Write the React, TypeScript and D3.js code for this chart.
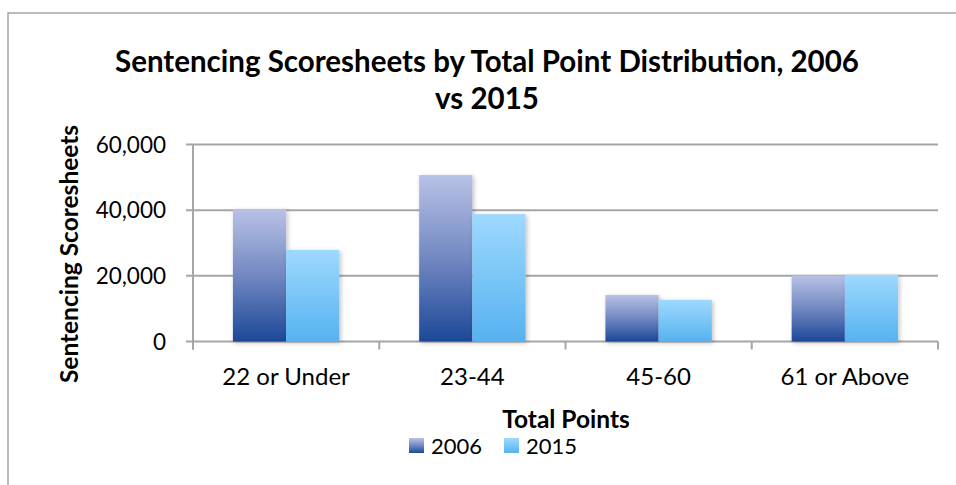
import React from "react";
import * as d3 from "d3";

const categories = ["22 or Under", "23-44", "45-60", "61 or Above"];
const series = ["2006", "2015"];
const values2006 = [40300, 50700, 14200, 20100];
const values2015 = [27900, 38800, 12700, 20300];
const yTicks = [0, 20000, 40000, 60000];

const W = 956;
const H = 485;
const FONT = "Lato, 'Open Sans', sans-serif";

export default function App() {
  const left = 193;
  const right = 938;
  const top = 144.5;
  const bottom = 341.5;
  const x0 = d3.scaleBand<string>().domain(categories).range([left, right]).paddingInner(0).paddingOuter(0);
  const y = d3.scaleLinear().domain([0, 60000]).range([bottom, top]);
  const vals = [values2006, values2015];
  const fills = ["url(#g2006)", "url(#g2015)"];
  const fmt = d3.format(",");
  // bar width with 150% gap
  const bw = x0.bandwidth() / 3.5;
  const gap = (x0.bandwidth() - 2 * bw) / 2;

  return (
    <svg width={W} height={H} style={{ position: "absolute", left: 0, top: 0, display: "block" }}>
      <defs>
        <linearGradient id="g2006" x1="0" y1="0" x2="0" y2="1">
          <stop offset="0" stopColor="#b9c2e6" />
          <stop offset="0.5" stopColor="#7288c2" />
          <stop offset="1" stopColor="#1c4897" />
        </linearGradient>
        <linearGradient id="g2015" x1="0" y1="0" x2="0" y2="1">
          <stop offset="0" stopColor="#9ed9fe" />
          <stop offset="1" stopColor="#56b2f0" />
        </linearGradient>
        <filter id="sh" x="-20%" y="-20%" width="140%" height="140%">
          <feDropShadow dx="1.5" dy="1.5" stdDeviation="2" floodColor="#000" floodOpacity="0.25" />
        </filter>
      </defs>
      <rect x={0} y={0} width={W} height={H} fill="#fff" />
      <rect x={8} y={13} width={W + 20} height={H + 20} fill="none" stroke="#a6a6a6" strokeWidth={1.5} />
      <text x={487} y={72} textAnchor="middle" fontFamily={FONT} fontWeight="bold" fontSize={29.5} fill="#000">
        Sentencing Scoresheets by Total Point Distribution, 2006
      </text>
      <text x={487} y={109} textAnchor="middle" fontFamily={FONT} fontWeight="bold" fontSize={29.5} fill="#000">
        vs 2015
      </text>
      {yTicks.map((t) => (
        <g key={t}>
          <line x1={left - 7} x2={right} y1={y(t)} y2={y(t)} stroke="#a6a6a6" strokeWidth={2} />
          <text x={166} y={y(t) + 8} textAnchor="end" fontFamily={FONT} fontSize={22.5} fill="#000">
            {fmt(t)}
          </text>
        </g>
      ))}
      <line x1={left} x2={left} y1={top} y2={bottom + 8} stroke="#a6a6a6" strokeWidth={2} />
      {categories.concat(["_end"]).map((c, i) => {
        const xx = left + i * x0.bandwidth();
        return <line key={c} x1={xx} x2={xx} y1={bottom} y2={bottom + 8} stroke="#a6a6a6" strokeWidth={2} />;
      })}
      {categories.map((c, ci) => (
        <g key={c}>
          {series.map((s, si) => {
            const v = vals[si][ci];
            const bx = (x0(c) as number) + gap + si * bw;
            return (
              <rect key={s} x={bx} y={y(v)} width={bw} height={bottom - y(v)} fill={fills[si]} filter="url(#sh)" />
            );
          })}
          <text x={(x0(c) as number) + x0.bandwidth() / 2} y={385} textAnchor="middle" fontFamily={FONT} fontSize={24} fill="#000">
            {c}
          </text>
        </g>
      ))}
      <text transform={`translate(78,254) rotate(-90)`} textAnchor="middle" fontFamily={FONT} fontWeight="bold" fontSize={24.5} fill="#000">
        Sentencing Scoresheets
      </text>
      <text x={566} y={428} textAnchor="middle" fontFamily={FONT} fontWeight="bold" fontSize={24.5} fill="#000">
        Total Points
      </text>
      {series.map((s, i) => (
        <g key={s}>
          <rect x={409 + i * 95} y={438} width={15} height={15} fill={fills[i]} />
          <text x={431 + i * 95} y={454} fontFamily={FONT} fontSize={22} fill="#000">
            {s}
          </text>
        </g>
      ))}
    </svg>
  );
}
